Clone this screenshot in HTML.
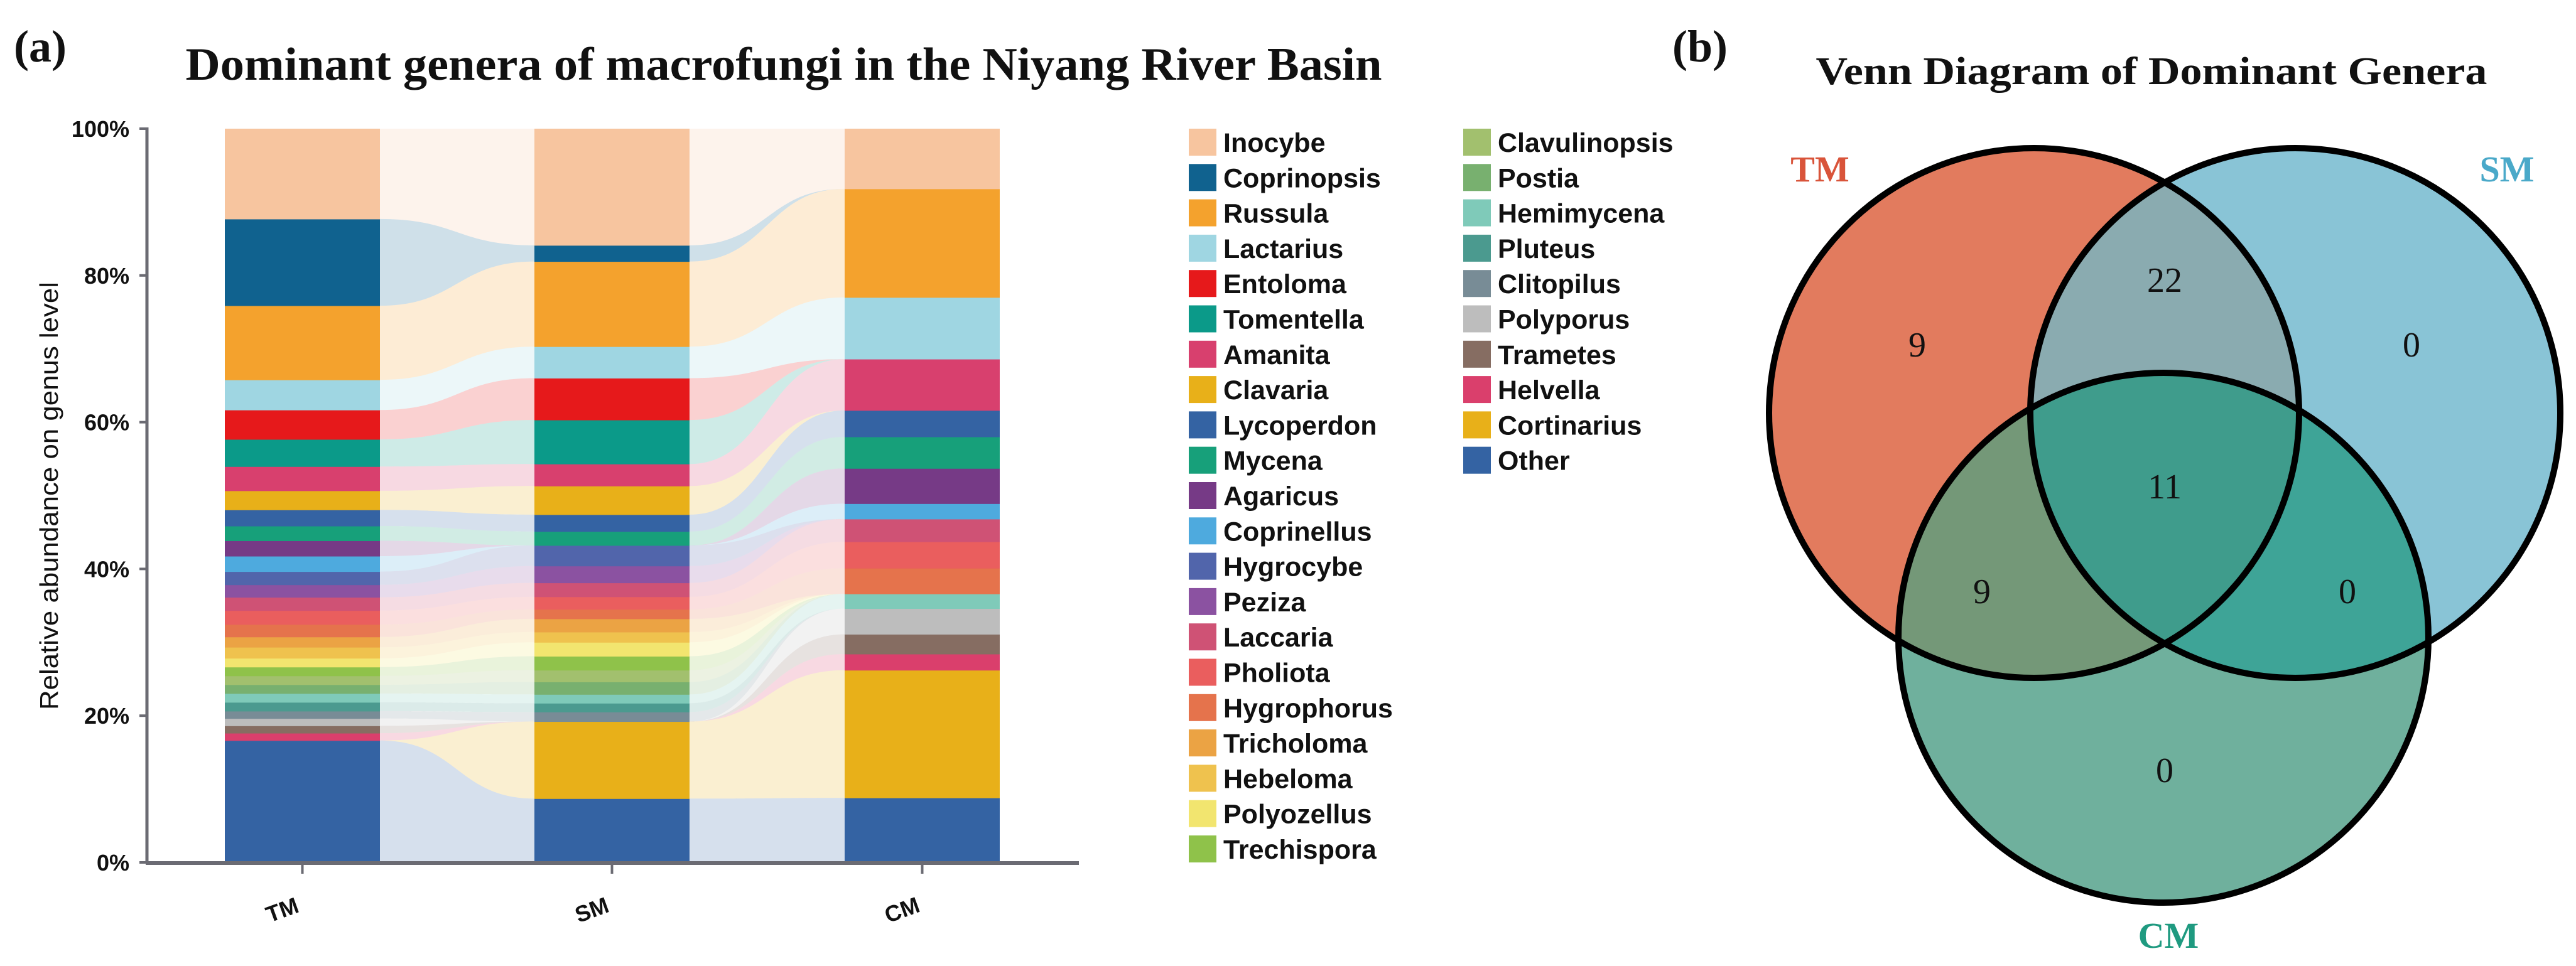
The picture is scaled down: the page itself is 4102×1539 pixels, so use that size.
<!DOCTYPE html>
<html><head><meta charset="utf-8">
<style>
html,body{margin:0;padding:0;background:#fff;}
svg{display:block;}
</style></head>
<body>
<svg id="fig" width="4102" height="1539" viewBox="0 0 4102 1539" xmlns="http://www.w3.org/2000/svg">
  <rect x="0" y="0" width="4102" height="1539" fill="#ffffff"/>
  <text x="22" y="98" font-family="Liberation Serif, serif" font-weight="bold" font-size="72" fill="#111">(a)</text>
  <text x="1248" y="127" text-anchor="middle" font-family="Liberation Serif, serif" font-weight="bold" font-size="74" textLength="1905" lengthAdjust="spacingAndGlyphs" fill="#111">Dominant genera of macrofungi in the Niyang River Basin</text>
  <text x="2663" y="98" font-family="Liberation Serif, serif" font-weight="bold" font-size="72" fill="#111">(b)</text>

  <g id="flows"></g>
  <g id="bars"></g>
  <g id="axes"></g>
  <g id="legend"></g>

  <text transform="translate(92,790) rotate(-90)" text-anchor="middle" font-family="Liberation Sans, sans-serif" font-size="41" textLength="682" lengthAdjust="spacingAndGlyphs" fill="#111">Relative abundance on genus level</text>

  <!-- Venn -->
  <text x="3426" y="134" text-anchor="middle" font-family="Liberation Serif, serif" font-weight="bold" font-size="62" textLength="1069" lengthAdjust="spacingAndGlyphs" fill="#111">Venn Diagram of Dominant Genera</text>
  <defs>
    <clipPath id="cTM"><circle cx="3239" cy="658" r="422"/></clipPath>
    <clipPath id="cSM"><circle cx="3655" cy="658" r="422"/></clipPath>
    <clipPath id="cCM"><circle cx="3445" cy="1016" r="422"/></clipPath>
  </defs>
  <g>
    <circle cx="3239" cy="658" r="422" fill="#e27b5e"/>
    <circle cx="3655" cy="658" r="422" fill="#89c4d6"/>
    <circle cx="3445" cy="1016" r="422" fill="#6fb09d"/>
    <circle cx="3655" cy="658" r="422" fill="#8aabb0" clip-path="url(#cTM)"/>
    <circle cx="3445" cy="1016" r="422" fill="#749878" clip-path="url(#cTM)"/>
    <circle cx="3445" cy="1016" r="422" fill="#3ea497" clip-path="url(#cSM)"/>
    <g clip-path="url(#cTM)"><circle cx="3445" cy="1016" r="422" fill="#3f9c8c" clip-path="url(#cSM)"/></g>
    <g fill="none" stroke="#000" stroke-width="10">
      <circle cx="3239" cy="658" r="422"/>
      <circle cx="3655" cy="658" r="422"/>
      <circle cx="3445" cy="1016" r="422"/>
    </g>
    <g font-family="Liberation Serif, serif" font-weight="bold" font-size="58" text-anchor="middle">
      <text x="2898" y="289" fill="#d9543a">TM</text>
      <text x="3992" y="289" fill="#4aa9c9">SM</text>
      <text x="3453" y="1510" fill="#1f9a80">CM</text>
    </g>
    <g font-family="Liberation Serif, serif" font-size="56" text-anchor="middle" fill="#111">
      <text x="3053" y="568">9</text>
      <text x="3447" y="465">22</text>
      <text x="3840" y="568">0</text>
      <text x="3447" y="794">11</text>
      <text x="3156" y="961">9</text>
      <text x="3738" y="961">0</text>
      <text x="3447" y="1246">0</text>
    </g>
  </g>
</svg>
<script>
// Stack order: bottom to top
const genera = ["Other","Cortinarius","Helvella","Trametes","Polyporus","Clitopilus","Pluteus","Hemimycena","Postia","Clavulinopsis","Trechispora","Polyozellus","Hebeloma","Tricholoma","Hygrophorus","Pholiota","Laccaria","Peziza","Hygrocybe","Coprinellus","Agaricus","Mycena","Lycoperdon","Clavaria","Amanita","Tomentella","Entoloma","Lactarius","Russula","Coprinopsis","Inocybe"];
const colors = ["#3463a3","#e8b019","#da3f6c","#866d62","#bdbdbd","#788c96","#4b9a8f","#7fcab9","#78b06f","#a2c06e","#8fc24a","#f2e56f","#efc24e","#eba344","#e5734c","#ea5e5e","#cf5275","#8b52a1","#5165ab","#4eaade","#763a86","#17a07a","#3463a3","#e8b019","#d8406e","#0b9a89","#e6191b","#9fd6e2","#f4a22d","#10628f","#f7c59f"];
const tmVals = [16.6,0,1.0,1.0,1.0,1.0,1.2,1.2,1.2,1.2,1.2,1.2,1.5,1.4,1.7,1.9,1.8,1.7,1.8,2.1,2.1,2.0,2.2,2.6,3.3,3.7,4.0,4.1,10.1,11.8,12.3];
const smVals = [8.7,10.5,0,0,0,1.3,1.2,1.2,1.7,1.6,1.9,1.9,1.4,1.8,1.3,1.7,1.9,2.3,2.8,0,0,1.9,2.3,3.9,3.0,6.0,5.7,4.3,11.6,2.2,15.9];
const cmVals = [8.8,17.4,2.2,2.7,3.5,0,0,2.0,0,0,0,0,0,0,3.5,3.6,3.1,0,0,2.1,4.8,4.3,3.6,0,7.0,0,0,8.4,14.8,0,8.2];
const samples = ["TM","SM","CM"];
const yTicks = ["0%","20%","40%","60%","80%","100%"];
// Legend order (column-major)
const legendOrder = ["Inocybe","Coprinopsis","Russula","Lactarius","Entoloma","Tomentella","Amanita","Clavaria","Lycoperdon","Mycena","Agaricus","Coprinellus","Hygrocybe","Peziza","Laccaria","Pholiota","Hygrophorus","Tricholoma","Hebeloma","Polyozellus","Trechispora","Clavulinopsis","Postia","Hemimycena","Pluteus","Clitopilus","Polyporus","Trametes","Helvella","Cortinarius","Other"];

const NS = "http://www.w3.org/2000/svg";
const Y0 = 1374, Y100 = 205;
const barX = [358, 851, 1345], barW = 247;
function yScale(v){ return Y0 - (Y0 - Y100) * v / 100; }
function mk(tag, attrs, parent){ const e = document.createElementNS(NS, tag); for (const k in attrs) e.setAttribute(k, attrs[k]); parent.appendChild(e); return e; }

const series = [tmVals, smVals, cmVals];
function norm(vals){ const s = vals.reduce((a,b)=>a+b,0); return vals.map(v => v*100/s); }
const stacks = series.map(vals => { const n = norm(vals); let acc = 0; return n.map(v => { const lo = acc; acc += v; return [lo, acc]; }); });

const flowsG = document.getElementById('flows');
const barsG = document.getElementById('bars');
for (let s = 0; s < 2; s++) {
  const x1 = barX[s] + barW, x2 = barX[s+1], xm = (x1 + x2) / 2;
  genera.forEach((g, i) => {
    const a = stacks[s][i], b = stacks[s+1][i];
    if (a[1]-a[0] <= 0 && b[1]-b[0] <= 0) return;
    const d = `M${x1},${yScale(a[1])} C${xm},${yScale(a[1])} ${xm},${yScale(b[1])} ${x2},${yScale(b[1])} L${x2},${yScale(b[0])} C${xm},${yScale(b[0])} ${xm},${yScale(a[0])} ${x1},${yScale(a[0])} Z`;
    const p = mk('path', {d: d, fill: colors[i], 'fill-opacity': 0.2}, flowsG);
    
    
  });
}
samples.forEach((smp, s) => {
  genera.forEach((g, i) => {
    const [lo, hi] = stacks[s][i];
    if (hi - lo <= 0) return;
    const r = mk('rect', {x: barX[s], y: yScale(hi), width: barW, height: yScale(lo) - yScale(hi) + 0.5, fill: colors[i]}, barsG);
    
    
  });
});

const axG = document.getElementById('axes');
const yl = mk('line', {x1: 234, y1: Y100 - 2, x2: 234, y2: Y0 + 2, stroke: '#6b6b73', 'stroke-width': 5}, axG);


const xl = mk('line', {x1: 232, y1: Y0 + 1, x2: 1718, y2: Y0 + 1, stroke: '#6b6b73', 'stroke-width': 6}, axG);


yTicks.forEach((t, k) => {
  const y = yScale(k * 20);
  const tk = mk('line', {x1: 222, y1: y, x2: 234, y2: y, stroke: '#6b6b73', 'stroke-width': 4}, axG);
  
  
  const tx = mk('text', {x: 206, y: y + 13, 'text-anchor': 'end', 'font-family': 'Liberation Sans, sans-serif', 'font-weight': 'bold', 'font-size': 36, fill: '#111'}, axG);
  tx.textContent = t;
  
  
});
samples.forEach((smp, s) => {
  const cx = barX[s] + barW / 2;
  const tk = mk('line', {x1: cx, y1: Y0 + 3, x2: cx, y2: 1392, stroke: '#6b6b73', 'stroke-width': 4}, axG);
  
  
  const tx = mk('text', {x: cx - 32, y: 1462, 'text-anchor': 'middle', 'font-family': 'Liberation Sans, sans-serif', 'font-weight': 'bold', 'font-size': 36, fill: '#111', transform: `rotate(-20 ${cx-32} 1450)`}, axG);
  tx.textContent = smp;
  
  
});

const lgG = document.getElementById('legend');
legendOrder.forEach((g, k) => {
  const col = k < 21 ? 0 : 1, row = k < 21 ? k : k - 21;
  const x = col === 0 ? 1893 : 2330, y = 205 + row * 56.3;
  const i = genera.indexOf(g);
  const sw = mk('rect', {x: x, y: y, width: 44, height: 43, fill: colors[i]}, lgG);
  
  
  const tx = mk('text', {x: x + 55, y: y + 37, 'font-family': 'Liberation Sans, sans-serif', 'font-weight': 'bold', 'font-size': 43, fill: '#111'}, lgG);
  tx.textContent = g;
  
  
});
</script>
</body></html>
